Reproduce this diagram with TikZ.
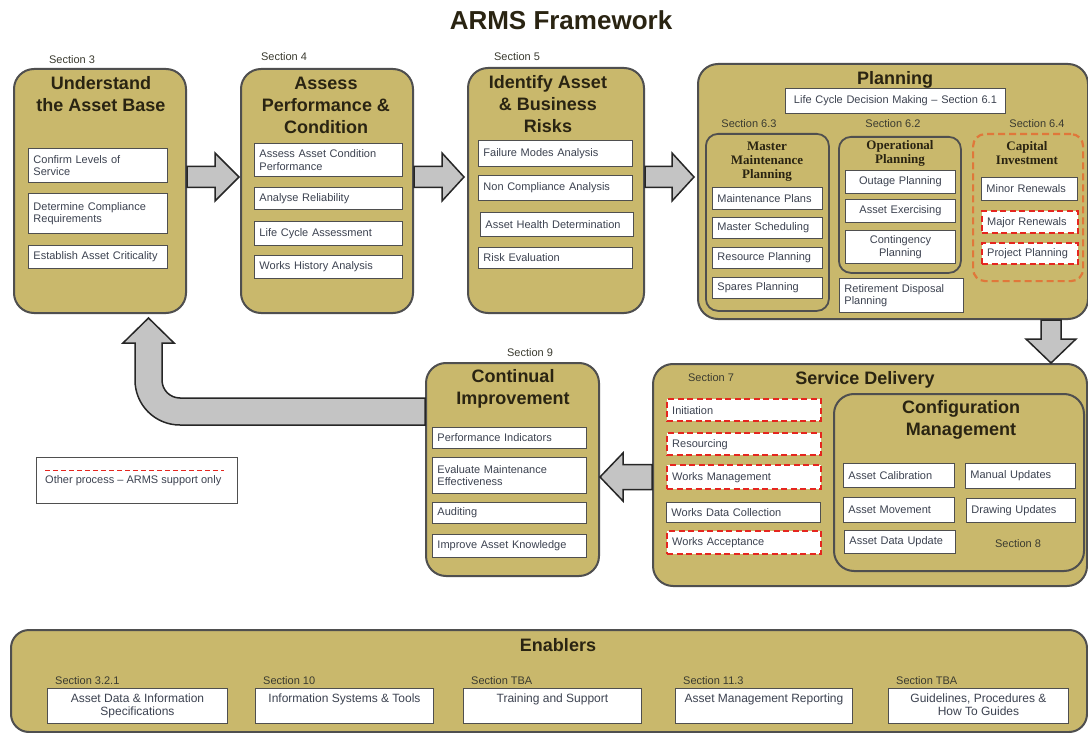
\documentclass[tikz,border=0pt]{standalone}
\usepackage{fontspec}
\setmainfont{Liberation Sans}
\newfontfamily\subtitlefont{Liberation Serif}
\usetikzlibrary{calc}
\definecolor{khaki}{HTML}{C9B86C}
\definecolor{edge}{HTML}{4F4F4F}
\definecolor{ink}{HTML}{3C4250}
\definecolor{headink}{HTML}{2A2412}
\definecolor{notegray}{HTML}{3B3B30}
\definecolor{arrowgray}{HTML}{C4C4C4}
\definecolor{supportred}{HTML}{E5261F}
\definecolor{caporange}{HTML}{E0773A}

\begin{document}
\begin{tikzpicture}[x=1pt,y=-1pt,
  every node/.style={inner sep=0pt},
  stage/.style={draw=edge, line width=2pt, fill=khaki, rounded corners=20pt, anchor=north west},
  group/.style={draw=edge, line width=1.8pt, fill=khaki, rounded corners=12pt, anchor=north west},
  stagehead/.style={font=\fontsize{18}{22}\selectfont\bfseries, text=headink, align=center},
  grouphead/.style={font=\subtitlefont\fontsize{13}{14}\selectfont\bfseries, text=headink, align=center},
  secnote/.style={font=\fontsize{11}{12}\selectfont, text=notegray},
  task/.style={draw=edge, line width=0.9pt, fill=white, anchor=north west, inner xsep=5pt,
    align=left, font=\fontsize{11}{12.5}\selectfont, text=ink},
  tk/.code 2 args={\pgfmathsetmacro\tkw{#1-10}%
    \edef\tkopts{minimum width=#1pt, minimum height=#2pt, text width=\tkw pt}%
    \expandafter\tikzset\expandafter{\tkopts}},
  support/.style={draw=supportred, line width=2.4pt, dash pattern=on 6pt off 3.5pt},
  enote/.style={font=\fontsize{12}{13}\selectfont, text=ink, align=center, anchor=north},
  barrow/.style={draw=black!85, line width=1.5pt, fill=arrowgray, line join=miter},
]
\fill[white] (0,0) rectangle (1088,733);
\useasboundingbox (0,0) rectangle (1088,733);

\node[font=\fontsize{26}{30}\selectfont\bfseries, text=headink] (title) at (561,20) {ARMS Framework};

% ---- Stage 1: Understand the Asset Base
\node[stage, minimum width=172pt, minimum height=244pt] (b1) at (13,68) {};
\node[secnote] (b1s) at (72,60) {Section 3};
\node[stagehead] (b1t) at (101,94) {Understand\\the Asset Base};
\node[task, tk={139}{34}] (b1a) at (28,148) {Confirm Levels of\\Service};
\node[task, tk={139}{40}] (b1b) at (28,193) {Determine Compliance\\Requirements};
\node[task, tk={139}{23}] (b1c) at (28,245) {Establish Asset Criticality};

% ---- Stage 2: Assess Performance & Condition
\node[stage, minimum width=172pt, minimum height=244pt] (b2) at (240,68) {};
\node[secnote] (b2s) at (284,57) {Section 4};
\node[stagehead] (b2t) at (326,105) {Assess\\Performance \&\\Condition};
\node[task, tk={148}{33}] (b2a) at (254,143) {Assess Asset Condition\\Performance};
\node[task, tk={148}{22}] (b2b) at (254,187) {Analyse Reliability};
\node[task, tk={148}{24}] (b2c) at (254,221) {Life Cycle Assessment};
\node[task, tk={148}{23}] (b2d) at (254,255) {Works History Analysis};

% ---- Stage 3: Identify Asset & Business Risks
\node[stage, minimum width=176pt, minimum height=245pt] (b3) at (467,67) {};
\node[secnote] (b3s) at (517,57) {Section 5};
\node[stagehead] (b3t) at (548,104) {Identify Asset\\\& Business\\Risks};
\node[task, tk={154}{26}] (b3a) at (478,140) {Failure Modes Analysis};
\node[task, tk={154}{25}] (b3b) at (478,175) {Non Compliance Analysis};
\node[task, tk={153}{24}] (b3c) at (480,212) {Asset Health Determination};
\node[task, tk={154}{21}] (b3d) at (478,247) {Risk Evaluation};

% ---- Stage 4: Planning
\node[stage, minimum width=390pt, minimum height=255pt] (b4) at (697,63) {};
\node[stagehead] (b4t) at (895,80) {Planning};
\node[task, tk={220}{25}, align=center] (lcd) at (785,88) {Life Cycle Decision Making – Section 6.1};

\node[secnote] (mmps) at (749,124) {Section 6.3};
\node[group, minimum width=123pt, minimum height=177pt] (mmp) at (705,133) {};
\node[grouphead] (mmpt) at (767,162) {Master\\Maintenance\\Planning};
\node[task, tk={110}{22}] (mmp1) at (712,187) {Maintenance Plans};
\node[task, tk={110}{21}] (mmp2) at (712,217) {Master Scheduling};
\node[task, tk={110}{21}] (mmp3) at (712,247) {Resource Planning};
\node[task, tk={110}{21}] (mmp4) at (712,277) {Spares Planning};

\node[secnote] (opps) at (893,124) {Section 6.2};
\node[group, minimum width=122pt, minimum height=136pt] (opp) at (838,136) {};
\node[grouphead] (oppt) at (900,153) {Operational\\Planning};
\node[task, tk={110}{23}, align=center] (opp1) at (845,170) {Outage Planning};
\node[task, tk={110}{23}, align=center] (opp2) at (845,199) {Asset Exercising};
\node[task, tk={110}{33}, align=center] (opp3) at (845,230) {Contingency\\Planning};
\node[task, tk={124}{34}] (rdp) at (839,278) {Retirement Disposal\\Planning};

\node[secnote] (caps) at (1037,124) {Section 6.4};
\node[group, minimum width=110pt, minimum height=147pt, draw=caporange, line width=2.2pt,
  dash pattern=on 7pt off 4pt] (cap) at (972,133) {};
\node[grouphead] (capt) at (1027,153) {Capital\\Investment};
\node[task, tk={96}{23}] (cap1) at (981,177) {Minor Renewals};
\node[task, support, tk={96}{22}] (cap2) at (981,210) {Major Renewals};
\node[task, support, tk={96}{21}] (cap3) at (981,242) {Project Planning};

% ---- Stage 5: Service Delivery
\node[stage, minimum width=434pt, minimum height=222pt] (b5) at (652,363) {};
\node[secnote] (b5s) at (711,378) {Section 7};
\node[stagehead] (b5t) at (865,380) {Service Delivery};
\node[task, support, tk={154}{22}] (sd1) at (666,398) {Initiation};
\node[task, support, tk={154}{22}] (sd2) at (666,432) {Resourcing};
\node[task, support, tk={154}{24}] (sd3) at (666,464) {Works Management};
\node[task, tk={154}{20}] (sd4) at (666,502) {Works Data Collection};
\node[task, support, tk={154}{23}] (sd5) at (666,530) {Works Acceptance};

\node[stage, minimum width=250pt, minimum height=177pt] (cm) at (833,393) {};
\node[stagehead] (cmt) at (961,420) {Configuration\\Management};
\node[task, tk={111}{24}] (cm1) at (843,463) {Asset Calibration};
\node[task, tk={110}{25}] (cm2) at (965,463) {Manual Updates};
\node[task, tk={111}{25}] (cm3) at (843,497) {Asset Movement};
\node[task, tk={109}{24}] (cm4) at (966,498) {Drawing Updates};
\node[task, tk={111}{23}] (cm5) at (844,530) {Asset Data Update};
\node[secnote] (cms) at (1018,544) {Section 8};

% ---- Stage 6: Continual Improvement
\node[stage, minimum width=173pt, minimum height=213pt] (b6) at (425,362) {};
\node[secnote] (b6s) at (530,353) {Section 9};
\node[stagehead] (b6t) at (513,389) {Continual\\Improvement};
\node[task, tk={154}{21}] (b6a) at (432,427) {Performance Indicators};
\node[task, tk={154}{36}] (b6b) at (432,457) {Evaluate Maintenance\\Effectiveness};
\node[task, tk={154}{21}] (b6c) at (432,502) {Auditing};
\node[task, tk={154}{23}] (b6d) at (432,534) {Improve Asset Knowledge};

% ---- Legend
\node[draw=edge, line width=0.9pt, fill=white, anchor=north west, minimum width=201pt,
  minimum height=46pt] (legend) at (36,457) {};
\draw[supportred, line width=1pt, dash pattern=on 5pt off 3pt]
  ($(legend.north west)+(9,13)$) coordinate (lga) -- ($(legend.north east)+(-14,13)$) coordinate (lgb);
\node[anchor=west, font=\fontsize{11}{12}\selectfont, text=ink] (legendtext)
  at ($(legend.north west)+(9,24)$) {Other process – ARMS support only};

% ---- Enablers
\node[stage, rounded corners=18pt, minimum width=1076pt, minimum height=102pt] (b7) at (10,629) {};
\node[stagehead] (b7t) at (558,645) {Enablers};
\node[task, tk={180}{35}] (e1) at (47,688) {};
\node[task, tk={178}{35}] (e2) at (255,688) {};
\node[task, tk={178}{35}] (e3) at (463,688) {};
\node[task, tk={177}{35}] (e4) at (675,688) {};
\node[task, tk={180}{35}] (e5) at (888,688) {};
\node[enote] (e1t) at ($(e1.north)+(0,6)$) {Asset Data \& Information\\Specifications};
\node[enote] (e2t) at ($(e2.north)+(0,6)$) {Information Systems \& Tools};
\node[enote] (e3t) at ($(e3.north)+(0,6)$) {Training and Support};
\node[enote] (e4t) at ($(e4.north)+(0,6)$) {Asset Management Reporting};
\node[enote] (e5t) at ($(e5.north)+(0,6)$) {Guidelines, Procedures \&\\How To Guides};
\foreach \e/\s in {e1/Section 3.2.1, e2/Section 10, e3/Section TBA, e4/Section 11.3, e5/Section TBA}
  \node[secnote, anchor=base west] (\e s) at ($(\e.north west)+(8,-4)$) {\s};

% ---- Block arrows between the stages
\draw[barrow] let \p1=(b1.east), \p2=(b2.west) in
  (\x1,-166.5pt) -- (\x2-25pt,-166.5pt) -- (\x2-25pt,-153pt) -- (\x2-1pt,-177pt)
  -- (\x2-25pt,-201pt) -- (\x2-25pt,-187.5pt) -- (\x1,-187.5pt) -- cycle;
\draw[barrow] let \p1=(b2.east), \p2=(b3.west) in
  (\x1,-166.5pt) -- (\x2-25pt,-166.5pt) -- (\x2-25pt,-153pt) -- (\x2-3pt,-177pt)
  -- (\x2-25pt,-201pt) -- (\x2-25pt,-187.5pt) -- (\x1,-187.5pt) -- cycle;
\draw[barrow] let \p1=(b3.east), \p2=(b4.west) in
  (\x1,-166.5pt) -- (\x2-25pt,-166.5pt) -- (\x2-25pt,-153pt) -- (\x2-3pt,-177pt)
  -- (\x2-25pt,-201pt) -- (\x2-25pt,-187.5pt) -- (\x1,-187.5pt) -- cycle;
\draw[barrow] let \p1=(b4.south), \p2=(b5.north) in
  (1041pt,\y1) -- (1041pt,\y2+24pt) -- (1026pt,\y2+24pt) -- (1051pt,\y2)
  -- (1076pt,\y2+24pt) -- (1061pt,\y2+24pt) -- (1061pt,\y1) -- cycle;
\draw[barrow] let \p1=(b5.west), \p2=(b6.east) in
  (\x1,-464.5pt) -- (\x2+23pt,-464.5pt) -- (\x2+23pt,-453pt) -- (\x2,-477pt)
  -- (\x2+23pt,-501pt) -- (\x2+23pt,-489.5pt) -- (\x1,-489.5pt) -- cycle;
\draw[barrow] let \p1=(b6.west), \p2=(b1.south) in
  (\x1,-398pt) -- (180pt,-398pt) .. controls (170pt,-398pt) and (162pt,-390pt) .. (162pt,-380pt)
  -- (162pt,-343pt) -- (174pt,-343pt) -- (148.5pt,\y2-4pt) -- (123pt,-343pt) -- (135pt,-343pt)
  -- (135pt,-380pt) .. controls (135pt,-405pt) and (155pt,-425pt) .. (180pt,-425pt)
  -- (\x1,-425pt) -- cycle;
\end{tikzpicture}
\end{document}
